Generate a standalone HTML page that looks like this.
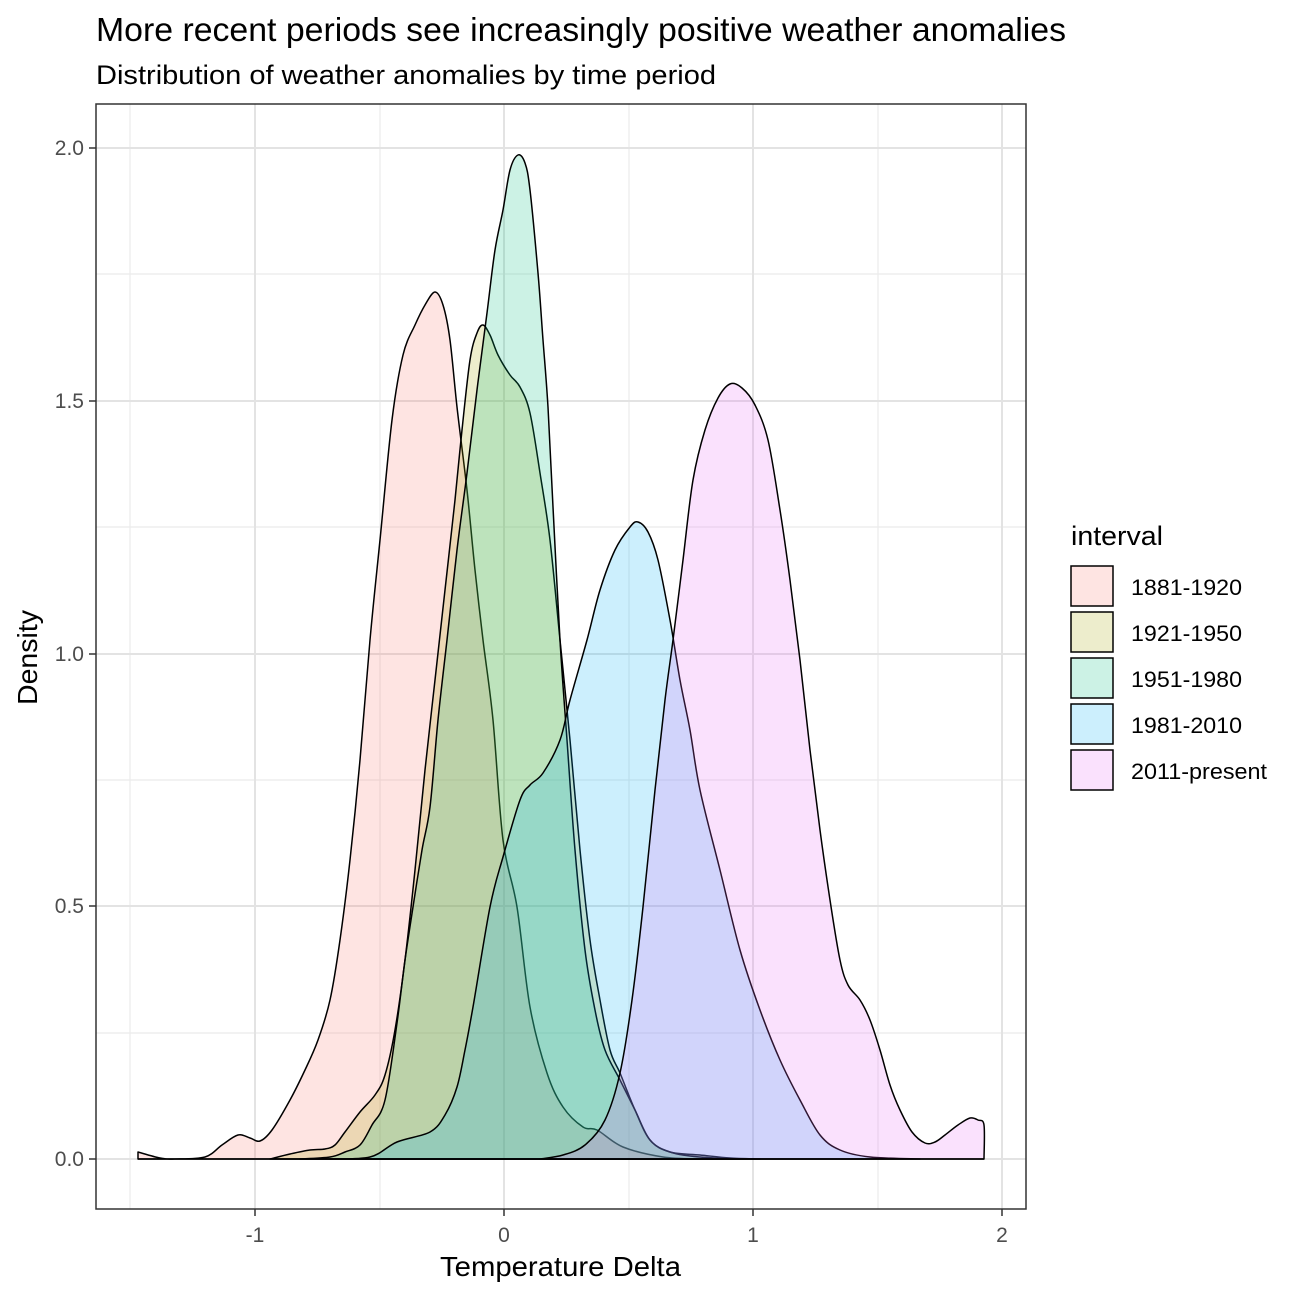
<!DOCTYPE html>
<html><head><meta charset="utf-8"><style>
html,body{margin:0;padding:0;background:#fff}
svg{display:block;font-family:"Liberation Sans",Arial,sans-serif}
</style></head><body>
<svg id="s" width="1296" height="1296" viewBox="0 0 1296 1296" xmlns="http://www.w3.org/2000/svg">
<rect width="1296" height="1296" fill="#fff"/>
<text x="96" y="41" font-size="33" textLength="970" lengthAdjust="spacingAndGlyphs" fill="#000">More recent periods see increasingly positive weather anomalies</text>
<text x="96" y="84" font-size="27" textLength="620" lengthAdjust="spacingAndGlyphs" fill="#000">Distribution of weather anomalies by time period</text>
<g stroke="#ebebeb" stroke-width="1.2">
<line x1="130" y1="104" x2="130" y2="1209"/><line x1="380" y1="104" x2="380" y2="1209"/>
<line x1="629" y1="104" x2="629" y2="1209"/><line x1="878" y1="104" x2="878" y2="1209"/>
<line x1="96" y1="274" x2="1026" y2="274"/><line x1="96" y1="527" x2="1026" y2="527"/>
<line x1="96" y1="780" x2="1026" y2="780"/><line x1="96" y1="1033" x2="1026" y2="1033"/>
</g>
<g stroke="#e3e3e3" stroke-width="2">
<line x1="255" y1="104" x2="255" y2="1209"/><line x1="504" y1="104" x2="504" y2="1209"/>
<line x1="753" y1="104" x2="753" y2="1209"/><line x1="1002" y1="104" x2="1002" y2="1209"/>
<line x1="96" y1="148" x2="1026" y2="148"/><line x1="96" y1="401" x2="1026" y2="401"/>
<line x1="96" y1="654" x2="1026" y2="654"/><line x1="96" y1="906" x2="1026" y2="906"/>
<line x1="96" y1="1159" x2="1026" y2="1159"/>
</g>
<g id="curves" stroke="#000" stroke-width="1.5" stroke-linejoin="round">
<path id="c1" fill="#F8766D" fill-opacity="0.2"/>
<path id="c2" fill="#A3A500" fill-opacity="0.2"/>
<path id="c3" fill="#00BF7D" fill-opacity="0.2"/>
<path id="c4" fill="#00B0F6" fill-opacity="0.2"/>
<path id="c5" fill="#E76BF3" fill-opacity="0.2"/>
</g>
<line x1="138" y1="1159" x2="984" y2="1159" stroke="#000" stroke-width="1.5"/>
<rect x="96" y="104" width="930" height="1105" fill="none" stroke="#333" stroke-width="1.5"/>
<g stroke="#333" stroke-width="1.5">
<line x1="255" y1="1209" x2="255" y2="1216"/><line x1="504" y1="1209" x2="504" y2="1216"/>
<line x1="753" y1="1209" x2="753" y2="1216"/><line x1="1002" y1="1209" x2="1002" y2="1216"/>
<line x1="89" y1="148" x2="96" y2="148"/><line x1="89" y1="401" x2="96" y2="401"/>
<line x1="89" y1="654" x2="96" y2="654"/><line x1="89" y1="906" x2="96" y2="906"/>
<line x1="89" y1="1159" x2="96" y2="1159"/>
</g>
<g font-size="21" fill="#4d4d4d" text-anchor="middle">
<text x="255" y="1242">-1</text><text x="504" y="1242">0</text><text x="753" y="1242">1</text><text x="1002" y="1242">2</text>
</g>
<g font-size="21" fill="#4d4d4d" text-anchor="end">
<text x="84" y="155">2.0</text><text x="84" y="408">1.5</text><text x="84" y="661">1.0</text><text x="84" y="913">0.5</text><text x="84" y="1166">0.0</text>
</g>
<text x="440" y="1276" font-size="28" textLength="241" lengthAdjust="spacingAndGlyphs">Temperature Delta</text>
<text transform="translate(37,705) rotate(-90)" font-size="28" textLength="95" lengthAdjust="spacingAndGlyphs">Density</text>
<text x="1071" y="545" font-size="27" textLength="92" lengthAdjust="spacingAndGlyphs">interval</text>
<g stroke="#000" stroke-width="1.5">
<rect x="1071" y="566" width="42" height="40" fill="#F8766D" fill-opacity="0.2"/>
<rect x="1071" y="612" width="42" height="40" fill="#A3A500" fill-opacity="0.2"/>
<rect x="1071" y="658" width="42" height="40" fill="#00BF7D" fill-opacity="0.2"/>
<rect x="1071" y="704" width="42" height="40" fill="#00B0F6" fill-opacity="0.2"/>
<rect x="1071" y="750" width="42" height="40" fill="#E76BF3" fill-opacity="0.2"/>
</g>
<g font-size="22">
<text x="1131" y="595" textLength="111" lengthAdjust="spacingAndGlyphs">1881-1920</text>
<text x="1131" y="641" textLength="111" lengthAdjust="spacingAndGlyphs">1921-1950</text>
<text x="1131" y="687" textLength="111" lengthAdjust="spacingAndGlyphs">1951-1980</text>
<text x="1131" y="733" textLength="111" lengthAdjust="spacingAndGlyphs">1981-2010</text>
<text x="1131" y="779" textLength="136" lengthAdjust="spacingAndGlyphs">2011-present</text>
</g>
</svg>
<script>
var D={
c1:[138,1152,160,1158,175,1159,205,1157,222,1145,238,1135,250,1138,260,1141,272,1130,290,1100,305,1070,318,1040,330,1000,340,940,350,860,360,760,370,640,380,540,392,420,403,355,415,325,425,305,435,292,443,305,450,340,457,407,467,490,475,570,483,640,493,720,503,840,517,907,530,1007,547,1073,563,1107,583,1127,597,1130,623,1147,663,1157,700,1159],
c2:[270,1159,290,1154,310,1150,325,1149,335,1145,345,1132,360,1112,375,1095,385,1075,395,1030,405,960,415,870,425,770,435,680,445,590,455,500,462,430,470,360,477,333,483,325,490,335,498,355,510,375,520,387,530,413,540,473,550,540,560,640,570,740,580,850,590,940,600,1000,610,1050,620,1073,635,1110,650,1140,670,1152,700,1155,730,1158,760,1159],
c3:[300,1159,330,1157,345,1152,360,1145,372,1125,385,1100,397,1023,405,960,413,907,422,850,430,807,438,720,447,640,457,550,467,473,477,390,487,313,495,250,503,210,510,170,518,155,525,163,530,190,538,273,543,340,548,407,553,507,560,640,567,740,575,850,585,950,595,1010,605,1050,620,1080,635,1110,650,1140,670,1152,700,1157,740,1159],
c4:[330,1159,370,1157,397,1142,430,1132,445,1115,457,1087,465,1050,473,1007,490,907,503,857,520,800,530,785,543,773,560,740,570,700,587,640,600,590,615,550,630,527,638,522,648,532,658,560,670,620,680,680,690,730,700,790,720,870,740,950,760,1010,780,1060,800,1100,820,1135,840,1150,870,1157,920,1159],
c5:[540,1159,563,1155,585,1145,605,1120,620,1073,632,1000,643,907,655,790,665,700,673,640,683,560,693,480,705,430,718,398,730,384,742,388,755,405,768,440,780,510,790,580,800,660,810,750,820,830,830,900,840,960,848,985,860,1000,870,1020,880,1050,890,1085,900,1110,912,1132,925,1143,935,1142,945,1135,958,1125,970,1118,978,1120,984,1125,984,1159]};
for(var k in D){var a=D[k],p=[];for(var i=0;i<a.length;i+=2)p.push([a[i],a[i+1]]);
var d="M"+p[0][0]+",1159 L"+p[0][0]+","+p[0][1];
for(var i=0;i<p.length-1;i++){var p0=p[i>0?i-1:i],p1=p[i],p2=p[i+1],p3=p[i+2<p.length?i+2:i+1];
var c1x=p1[0]+(p2[0]-p0[0])/6,c1y=p1[1]+(p2[1]-p0[1])/6,c2x=p2[0]-(p3[0]-p1[0])/6,c2y=p2[1]-(p3[1]-p1[1])/6;
d+=" C"+c1x.toFixed(1)+","+c1y.toFixed(1)+" "+c2x.toFixed(1)+","+c2y.toFixed(1)+" "+p2[0]+","+p2[1];}
d+=" L"+p[p.length-1][0]+",1159 Z";document.getElementById(k).setAttribute("d",d);}
</script>
</body></html>
